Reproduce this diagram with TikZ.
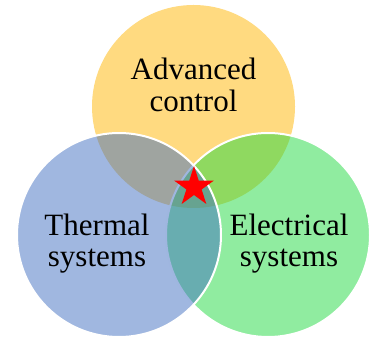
\documentclass[tikz,border=0pt]{standalone}
\usepackage{fontspec}
\setmainfont{Liberation Serif}
\usetikzlibrary{shapes.geometric}
\definecolor{cyel}{RGB}{255,218,128}
\definecolor{cblue}{RGB}{65,111,193}
\definecolor{cgreen}{RGB}{33,217,65}
\tikzset{
  venn/.style={draw=white, line width=2pt},
  lbl/.style={anchor=base, inner sep=0pt, font=\fontsize{31}{31}\selectfont},
}
\begin{document}
\begin{tikzpicture}[x=1pt,y=1pt]
\useasboundingbox (0,0) rectangle (371,339);
\fill[cyel] (193.5,232.5) circle (101.5);
\path[venn, fill=cgreen, fill opacity=0.5] (268,104) circle (102);
\path[venn, fill=cblue, fill opacity=0.5] (119,104) circle (102);
\node[star, star points=5, star point ratio=2.618, minimum size=42pt, inner sep=0pt, fill=red] (st) at (194,152) {};
\node[lbl] (a1) at (193.5,259) {Advanced};
\node[lbl] (a2) at (193.5,227) {control};
\node[lbl] (t1) at (97,103) {Thermal};
\node[lbl] (t2) at (97,72) {systems};
\node[lbl] (e1) at (289,103) {Electrical};
\node[lbl] (e2) at (289,72) {systems};
\end{tikzpicture}
\end{document}
